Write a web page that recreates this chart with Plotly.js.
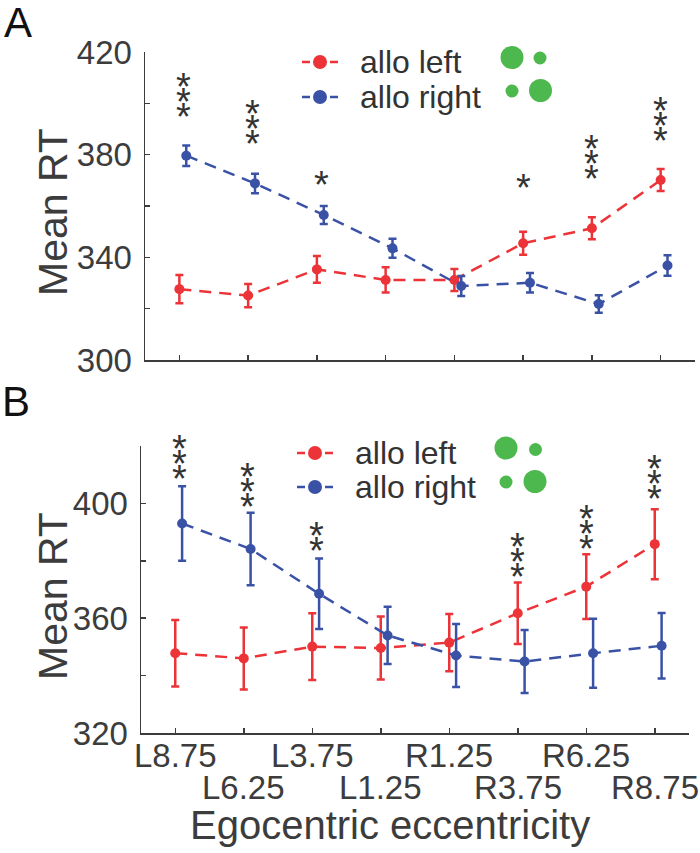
<!DOCTYPE html>
<html>
<head>
<meta charset="utf-8">
<script src="https://cdn.plot.ly/plotly-3.0.1.min.js"></script>
<style>
html,body{margin:0;padding:0;background:#fff;}
#chart{width:700px;height:853px;}
</style>
</head>
<body>
<div id="chart"></div>
<script>
// ---------- data ----------
const categories = ["L8.75","L6.25","L3.75","L1.25","R1.25","R3.75","R6.25","R8.75"];
const seriesNames = ["allo left","allo right"];

// Panel A
const redA    = [327.6, 325.1, 335.3, 331.2, 331.2, 345.5, 351.3, 370.1];
const redAErr = [5.5, 4.5, 5.2, 4.9, 4.3, 4.5, 4.3, 4.3];
const blueA    = [379.6, 368.8, 356.5, 343.5, 328.8, 330.1, 321.8, 336.8];
const blueAErr = [4.0, 3.8, 3.5, 3.7, 3.9, 3.8, 3.4, 4.0];
const starsA    = [3, 3, 1, 0, 0, 1, 3, 3];
const starBaseA = [398.0, 387.5, 371.5, null, null, 370.5, 374.0, 389.0];

// Panel B
const redB    = [347.8, 346.0, 350.1, 349.6, 351.5, 361.7, 371.0, 385.8];
const redBErr = [11.6, 10.8, 11.6, 11.0, 10.0, 10.7, 11.3, 12.2];
const blueB    = [393.0, 384.1, 368.5, 354.0, 347.0, 344.9, 347.8, 350.4];
const blueBErr = [13.0, 12.6, 12.3, 10.0, 11.0, 11.0, 12.0, 11.4];
const starsB    = [3, 3, 2, 0, 0, 3, 3, 3];
const starBaseB = [411.6, 401.8, 386.5, null, null, 377.5, 387.2, 404.6];

const yTicksA = [300, 320, 340, 360, 380, 400, 420];
const yTickTextA = ["300", "", "340", "", "380", "", "420"];
const yTicksB = [320, 340, 360, 380, 400, 420];
const yTickTextB = ["320", "", "360", "", "400", ""];

// ---------- style ----------
const RED = "#ec3338";
const BLUE = "#3a52a6";
const GREEN = "#4db84e";
const AX = "#3c3c3c";
const FONT = "Liberation Sans, Arial, sans-serif";
const W = 700, H = 853;
const blueShift = 0.1;
const px = v => v / W;
const py = v => 1 - v / H;

const idx = categories.map((_, i) => i);
const idxBlue = idx.map(i => i + blueShift);

function mkTrace(name, x, y, err, color, xa, ya) {
  return {
    type: "scatter", mode: "lines+markers", name: name,
    x: x, y: y,
    error_y: {type: "data", array: err, visible: true, color: color, thickness: 2.5, width: 4},
    line: {color: color, width: 2.5, dash: "12px,8px"},
    marker: {color: color, size: 10},
    xaxis: xa, yaxis: ya, showlegend: false, cliponaxis: false
  };
}

const data = [
  mkTrace(seriesNames[0], idx, redA, redAErr, RED, "x", "y"),
  mkTrace(seriesNames[1], idxBlue, blueA, blueAErr, BLUE, "x", "y"),
  mkTrace(seriesNames[0], idx, redB, redBErr, RED, "x2", "y2"),
  mkTrace(seriesNames[1], idxBlue, blueB, blueBErr, BLUE, "x2", "y2")
];

const annotations = [];
function addStars(stars, base, red, blue, xref, yref) {
  stars.forEach((n, i) => {
    const xx = blue[i] > red[i] ? i + blueShift * 0.6 : i;
    for (let k = 0; k < n; k++) {
      annotations.push({
        x: xx, y: base[i], xref: xref, yref: yref,
        text: "*", showarrow: false, yanchor: "middle", xanchor: "center",
        yshift: k * 15 - 9,
        font: {family: FONT, size: 38, color: "#333"}
      });
    }
  });
}
addStars(starsA, starBaseA, redA, blueA, "x", "y");
addStars(starsB, starBaseB, redB, blueB, "x2", "y2");

// x tick labels of panel B in two staggered rows
categories.forEach((c, i) => {
  annotations.push({
    x: i, xref: "x2", y: py(i % 2 === 0 ? 755 : 787), yref: "paper",
    text: c, showarrow: false, xanchor: "center", yanchor: "middle",
    font: {family: FONT, size: 33, color: AX}
  });
});

// titles and panel letters
annotations.push(
  {x: px(53), y: py(212), xref: "paper", yref: "paper", text: "Mean RT", textangle: -90,
   showarrow: false, xanchor: "center", yanchor: "middle", font: {family: FONT, size: 41, color: AX}},
  {x: px(53), y: py(596), xref: "paper", yref: "paper", text: "Mean RT", textangle: -90,
   showarrow: false, xanchor: "center", yanchor: "middle", font: {family: FONT, size: 41, color: AX}},
  {x: px(390), y: py(825), xref: "paper", yref: "paper", text: "Egocentric eccentricity",
   showarrow: false, xanchor: "center", yanchor: "middle", font: {family: FONT, size: 40, color: AX}},
  {x: px(18), y: py(23), xref: "paper", yref: "paper", text: "A",
   showarrow: false, xanchor: "center", yanchor: "middle", font: {family: FONT, size: 42, color: "#111"}},
  {x: px(16), y: py(401), xref: "paper", yref: "paper", text: "B",
   showarrow: false, xanchor: "center", yanchor: "middle", font: {family: FONT, size: 42, color: "#111"}}
);

const shapes = [];
// green dots beside legends
function dot(cx, cy, d, color) {
  shapes.push({type: "circle", xref: "paper", yref: "paper", xsizemode: "pixel", ysizemode: "pixel",
    xanchor: px(cx), yanchor: py(cy), x0: -d / 2, x1: d / 2, y0: -d / 2, y1: d / 2,
    fillcolor: color, line: {width: 0}});
}
dot(512, 57.5, 23, GREEN); dot(540, 58, 13, GREEN); dot(512, 91, 13, GREEN); dot(540.5, 90.5, 23, GREEN);
dot(506, 448, 23, GREEN); dot(535.5, 449.5, 13, GREEN); dot(506, 482, 13, GREEN); dot(535, 481.5, 23, GREEN);

// manual legends: dashed sample with a dot, then the series name
function legendItem(mx, my, color, name) {
  shapes.push({type: "line", xref: "paper", yref: "paper", x0: px(mx - 18), x1: px(mx + 18), y0: py(my), y1: py(my),
    line: {color: color, width: 2.5, dash: "8px,20px,8px"}});
  dot(mx, my, 14, color);
  annotations.push({x: px(mx + 38), y: py(my), xref: "paper", yref: "paper", text: name, showarrow: false,
    xanchor: "left", yanchor: "middle", font: {family: FONT, size: 32, color: "#333"}});
}
legendItem(320, 62, RED, seriesNames[0]);
legendItem(320, 97, BLUE, seriesNames[1]);
legendItem(315, 453, RED, seriesNames[0]);
legendItem(315, 487, BLUE, seriesNames[1]);

function xAx(domain, anchor) {
  return {domain: domain, anchor: anchor, range: [-0.5, 7.5], tickvals: idx, showticklabels: false,
    ticks: "inside", ticklen: 5, tickwidth: 1.5, tickcolor: AX, showline: true, linecolor: AX, linewidth: 1.5,
    showgrid: false, zeroline: false, fixedrange: true};
}
function yAx(domain, anchor, range, tv, tt) {
  return {domain: domain, anchor: anchor, range: range, tickvals: tv, ticktext: tt,
    ticks: "inside", ticklen: 5, tickwidth: 1.5, tickcolor: AX, showline: true, linecolor: AX, linewidth: 1.5,
    showgrid: false, zeroline: false, ticklabelstandoff: 5,
    tickfont: {family: FONT, size: 33, color: AX}, fixedrange: true};
}

const layout = {
  width: W, height: H, margin: {l: 0, r: 0, t: 0, b: 0},
  paper_bgcolor: "#fff", plot_bgcolor: "#fff",
  font: {family: FONT, color: AX},
  showlegend: false,
  xaxis: xAx([px(145), px(695)], "y"),
  yaxis: yAx([py(360), py(52)], "x", [300, 420], yTicksA, yTickTextA),
  xaxis2: xAx([px(141), px(689)], "y2"),
  yaxis2: yAx([py(733), py(446)], "x2", [320, 420], yTicksB, yTickTextB),
  annotations: annotations,
  shapes: shapes
};

Plotly.newPlot("chart", data, layout, {staticPlot: true, displayModeBar: false});
</script>
</body>
</html>
